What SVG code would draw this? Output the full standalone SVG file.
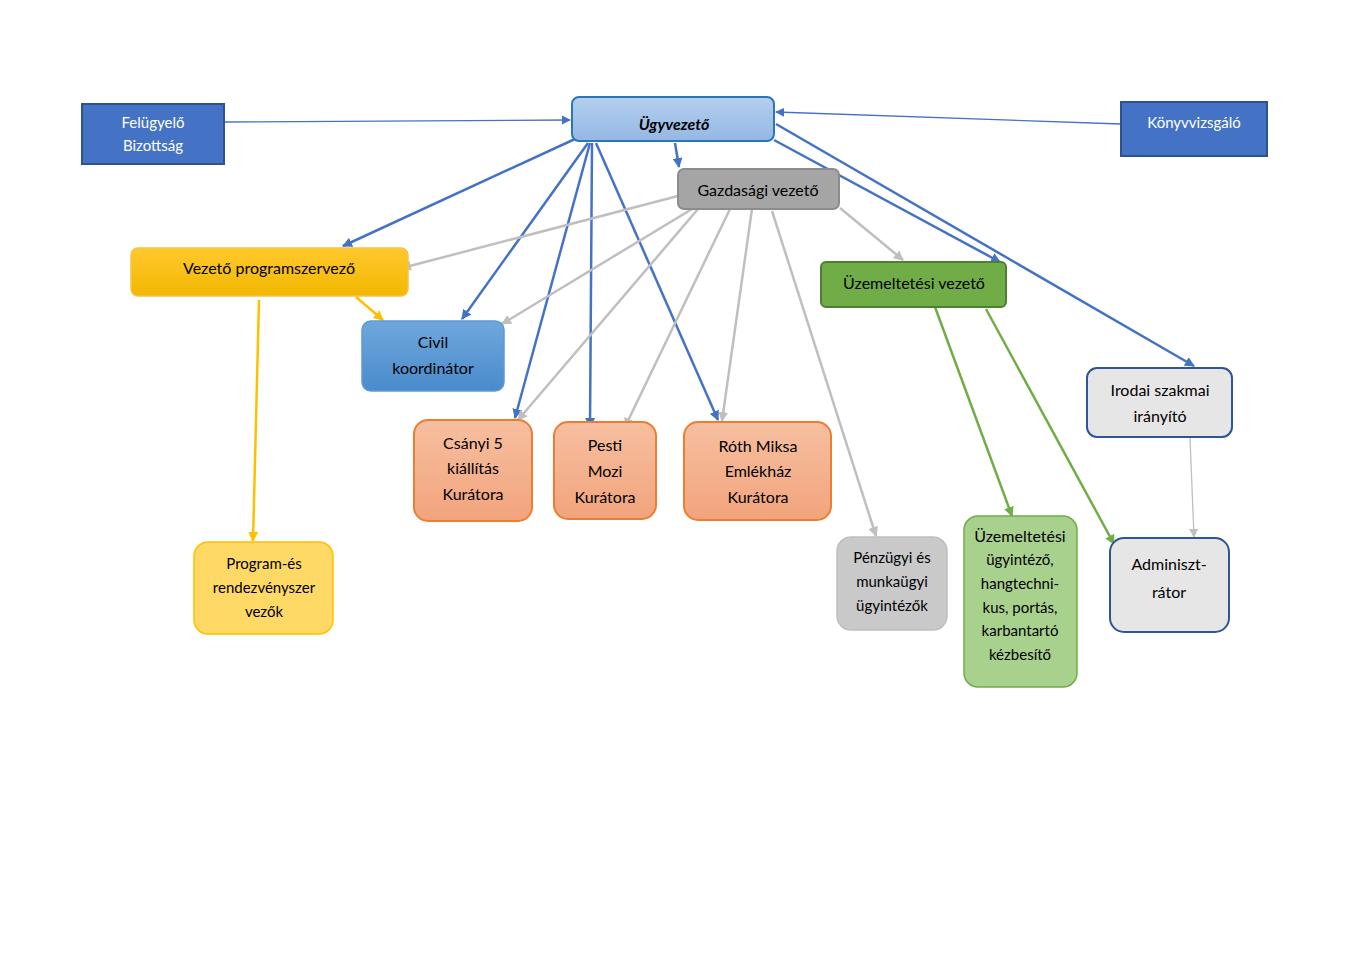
<svg xmlns="http://www.w3.org/2000/svg" width="1350" height="954" viewBox="0 0 1350 954">
<style>
text{font-family:Lato,"Open Sans","Liberation Sans",sans-serif;font-size:16px;fill:#000;text-anchor:middle}
.w{fill:#fff;font-size:15px}
.s{font-size:15px}
.b{stroke:#4472C4;stroke-width:2.5;fill:none}
.bt{stroke:#4472C4;stroke-width:1.3;fill:none}
.g{stroke:#BFBFBF;stroke-width:2.5;fill:none}
.gt{stroke:#BFBFBF;stroke-width:1.3;fill:none}
.y{stroke:#FFC000;stroke-width:2.5;fill:none}
.gr{stroke:#70AD47;stroke-width:2.5;fill:none}
</style>
<defs>
<marker id="ab" viewBox="0 0 10 10" refX="9" refY="5" markerWidth="4" markerHeight="4" orient="auto"><path d="M0,0L10,5L0,10z" fill="#4472C4"/></marker>
<marker id="abt" viewBox="0 0 10 10" refX="9" refY="5" markerWidth="7" markerHeight="7" orient="auto"><path d="M0,0L10,5L0,10z" fill="#4472C4"/></marker>
<marker id="ag" viewBox="0 0 10 10" refX="9" refY="5" markerWidth="4" markerHeight="4" orient="auto"><path d="M0,0L10,5L0,10z" fill="#BFBFBF"/></marker>
<marker id="agt" viewBox="0 0 10 10" refX="9" refY="5" markerWidth="7" markerHeight="7" orient="auto"><path d="M0,0L10,5L0,10z" fill="#BFBFBF"/></marker>
<marker id="ay" viewBox="0 0 10 10" refX="9" refY="5" markerWidth="4" markerHeight="4" orient="auto"><path d="M0,0L10,5L0,10z" fill="#FFC000"/></marker>
<marker id="agr" viewBox="0 0 10 10" refX="9" refY="5" markerWidth="4" markerHeight="4" orient="auto"><path d="M0,0L10,5L0,10z" fill="#70AD47"/></marker>
<linearGradient id="gU" x1="0" y1="0" x2="0" y2="1"><stop offset="0" stop-color="#B4CFEE"/><stop offset="1" stop-color="#94B8E4"/></linearGradient>
<linearGradient id="gC" x1="0" y1="0" x2="0" y2="1"><stop offset="0" stop-color="#6FA7DD"/><stop offset="1" stop-color="#4A8BCB"/></linearGradient>
<linearGradient id="gY" x1="0" y1="0" x2="0" y2="1"><stop offset="0" stop-color="#FFC92E"/><stop offset="1" stop-color="#F2B700"/></linearGradient>
<linearGradient id="gO" x1="0" y1="0" x2="0" y2="1"><stop offset="0" stop-color="#F6BFA0"/><stop offset="1" stop-color="#F2A47C"/></linearGradient>
</defs>
<rect width="1350" height="954" fill="#fff"/>
<g id="connectors">
<path class="bt" d="M224,122 L570,120" marker-end="url(#abt)"/>
<path class="bt" d="M1121,124 L776,112" marker-end="url(#abt)"/>
<path class="b" d="M675,143 L679,167" marker-end="url(#ab)"/>
<path class="b" d="M575,139 L343,246" marker-end="url(#ab)"/>
<path class="b" d="M588,143 L462,319" marker-end="url(#ab)"/>
<path class="b" d="M590,143 L515,418" marker-end="url(#ab)"/>
<path class="b" d="M592,143 L590,427" marker-end="url(#ab)"/>
<path class="b" d="M596,143 L718,420" marker-end="url(#ab)"/>
<path class="b" d="M774,140 L1000,262" marker-end="url(#ab)"/>
<path class="b" d="M776,124 L1194,366" marker-end="url(#ab)"/>
<path class="g" d="M678,196 L402,268" marker-end="url(#ag)"/>
<path class="g" d="M692,209 L502,324" marker-end="url(#ag)"/>
<path class="g" d="M698,209 L518,420" marker-end="url(#ag)"/>
<path class="g" d="M730,209 L625,427" marker-end="url(#ag)"/>
<path class="g" d="M752,209 L722,421" marker-end="url(#ag)"/>
<path class="g" d="M772,211 L876,536" marker-end="url(#ag)"/>
<path class="g" d="M840,208 L903,260" marker-end="url(#ag)"/>
<path class="gt" d="M1190,438 L1194,537" marker-end="url(#agt)"/>
<path class="y" d="M356,297 L383,320" marker-end="url(#ay)"/>
<path class="y" d="M259,300 L253,541" marker-end="url(#ay)"/>
<path class="gr" d="M935,307 L1012,516" marker-end="url(#agr)"/>
<path class="gr" d="M986,309 L1114,544" marker-end="url(#agr)"/>
</g>
<g id="felugyelo"><rect x="82" y="104" width="142" height="60" fill="#4472C4" stroke="#2F528F" stroke-width="2"/><text class="w" x="153" y="128">Felügyelő</text><text class="w" x="153" y="151">Bizottság</text></g>
<g id="ugyvezeto"><rect x="572" y="97" width="202" height="44" rx="7" fill="url(#gU)" stroke="#2E75B6" stroke-width="2"/><text x="674" y="130" font-weight="bold" font-style="italic">Ügyvezető</text></g>
<g id="konyvvizsgalo"><rect x="1121" y="102" width="146" height="54" fill="#4472C4" stroke="#2F528F" stroke-width="2"/><text class="w" x="1194" y="128">Könyvvizsgáló</text></g>
<g id="gazdasagi"><rect x="678" y="169" width="161" height="40" rx="6" fill="#A5A5A5" stroke="#8C8C8C" stroke-width="2"/><text x="758" y="196">Gazdasági vezető</text></g>
<g id="vezeto-program"><rect x="131" y="248" width="277" height="48" rx="7" fill="url(#gY)" stroke="#F5C542" stroke-width="1.5"/><text x="269" y="274">Vezető programszervező</text></g>
<g id="civil"><rect x="362" y="321" width="142" height="70" rx="9" fill="url(#gC)" stroke="#5B9BD5" stroke-width="1.5"/><text x="433" y="348">Civil</text><text x="433" y="374">koordinátor</text></g>
<g id="csanyi"><rect x="414" y="420" width="118" height="101" rx="14" fill="url(#gO)" stroke="#ED7D31" stroke-width="2"/><text x="473" y="449">Csányi 5</text><text x="473" y="474">kiállítás</text><text x="473" y="500">Kurátora</text></g>
<g id="pesti"><rect x="554" y="422" width="102" height="97" rx="14" fill="url(#gO)" stroke="#ED7D31" stroke-width="2"/><text x="605" y="451">Pesti</text><text x="605" y="477">Mozi</text><text x="605" y="503">Kurátora</text></g>
<g id="roth"><rect x="684" y="422" width="147" height="98" rx="14" fill="url(#gO)" stroke="#ED7D31" stroke-width="2"/><text x="758" y="452">Róth Miksa</text><text x="758" y="477">Emlékház</text><text x="758" y="503">Kurátora</text></g>
<g id="uzemeltetesi-vezeto"><rect x="821" y="262" width="185" height="45" rx="5" fill="#70AD47" stroke="#507E32" stroke-width="2"/><text x="914" y="289">Üzemeltetési vezető</text></g>
<g id="irodai"><rect x="1087" y="368" width="145" height="69" rx="10" fill="#E7E6E6" stroke="#2F5597" stroke-width="2"/><text x="1160" y="396">Irodai szakmai</text><text x="1160" y="422">irányító</text></g>
<g id="program-es"><rect x="194" y="542" width="139" height="92" rx="14" fill="#FFD966" stroke="#FFC000" stroke-width="1.5"/><text class="s" x="264" y="569">Program-és</text><text class="s" x="264" y="593">rendezvényszer</text><text class="s" x="264" y="617">vezők</text></g>
<g id="penzugyi"><rect x="837" y="537" width="110" height="93" rx="14" fill="#C9C9C9" stroke="#BFBFBF" stroke-width="1.5"/><text class="s" x="892" y="563">Pénzügyi és</text><text class="s" x="892" y="587">munkaügyi</text><text class="s" x="892" y="611">ügyintézők</text></g>
<g id="uzemeltetesi-ugyintezo"><rect x="964" y="516" width="113" height="171" rx="14" fill="#A9D18E" stroke="#70AD47" stroke-width="1.5"/><text x="1020" y="542" font-size="13px">Üzemeltetési</text><text class="s" x="1020" y="565">ügyintéző,</text><text class="s" x="1020" y="589">hangtechni-</text><text class="s" x="1020" y="613">kus, portás,</text><text class="s" x="1020" y="636">karbantartó</text><text class="s" x="1020" y="660">kézbesítő</text></g>
<g id="adminisztrator"><rect x="1110" y="538" width="119" height="94" rx="14" fill="#E7E6E6" stroke="#2F5597" stroke-width="2"/><text x="1169" y="570" font-size="19px">Adminiszt-</text><text x="1169" y="598" font-size="19px">rátor</text></g>
</svg>
